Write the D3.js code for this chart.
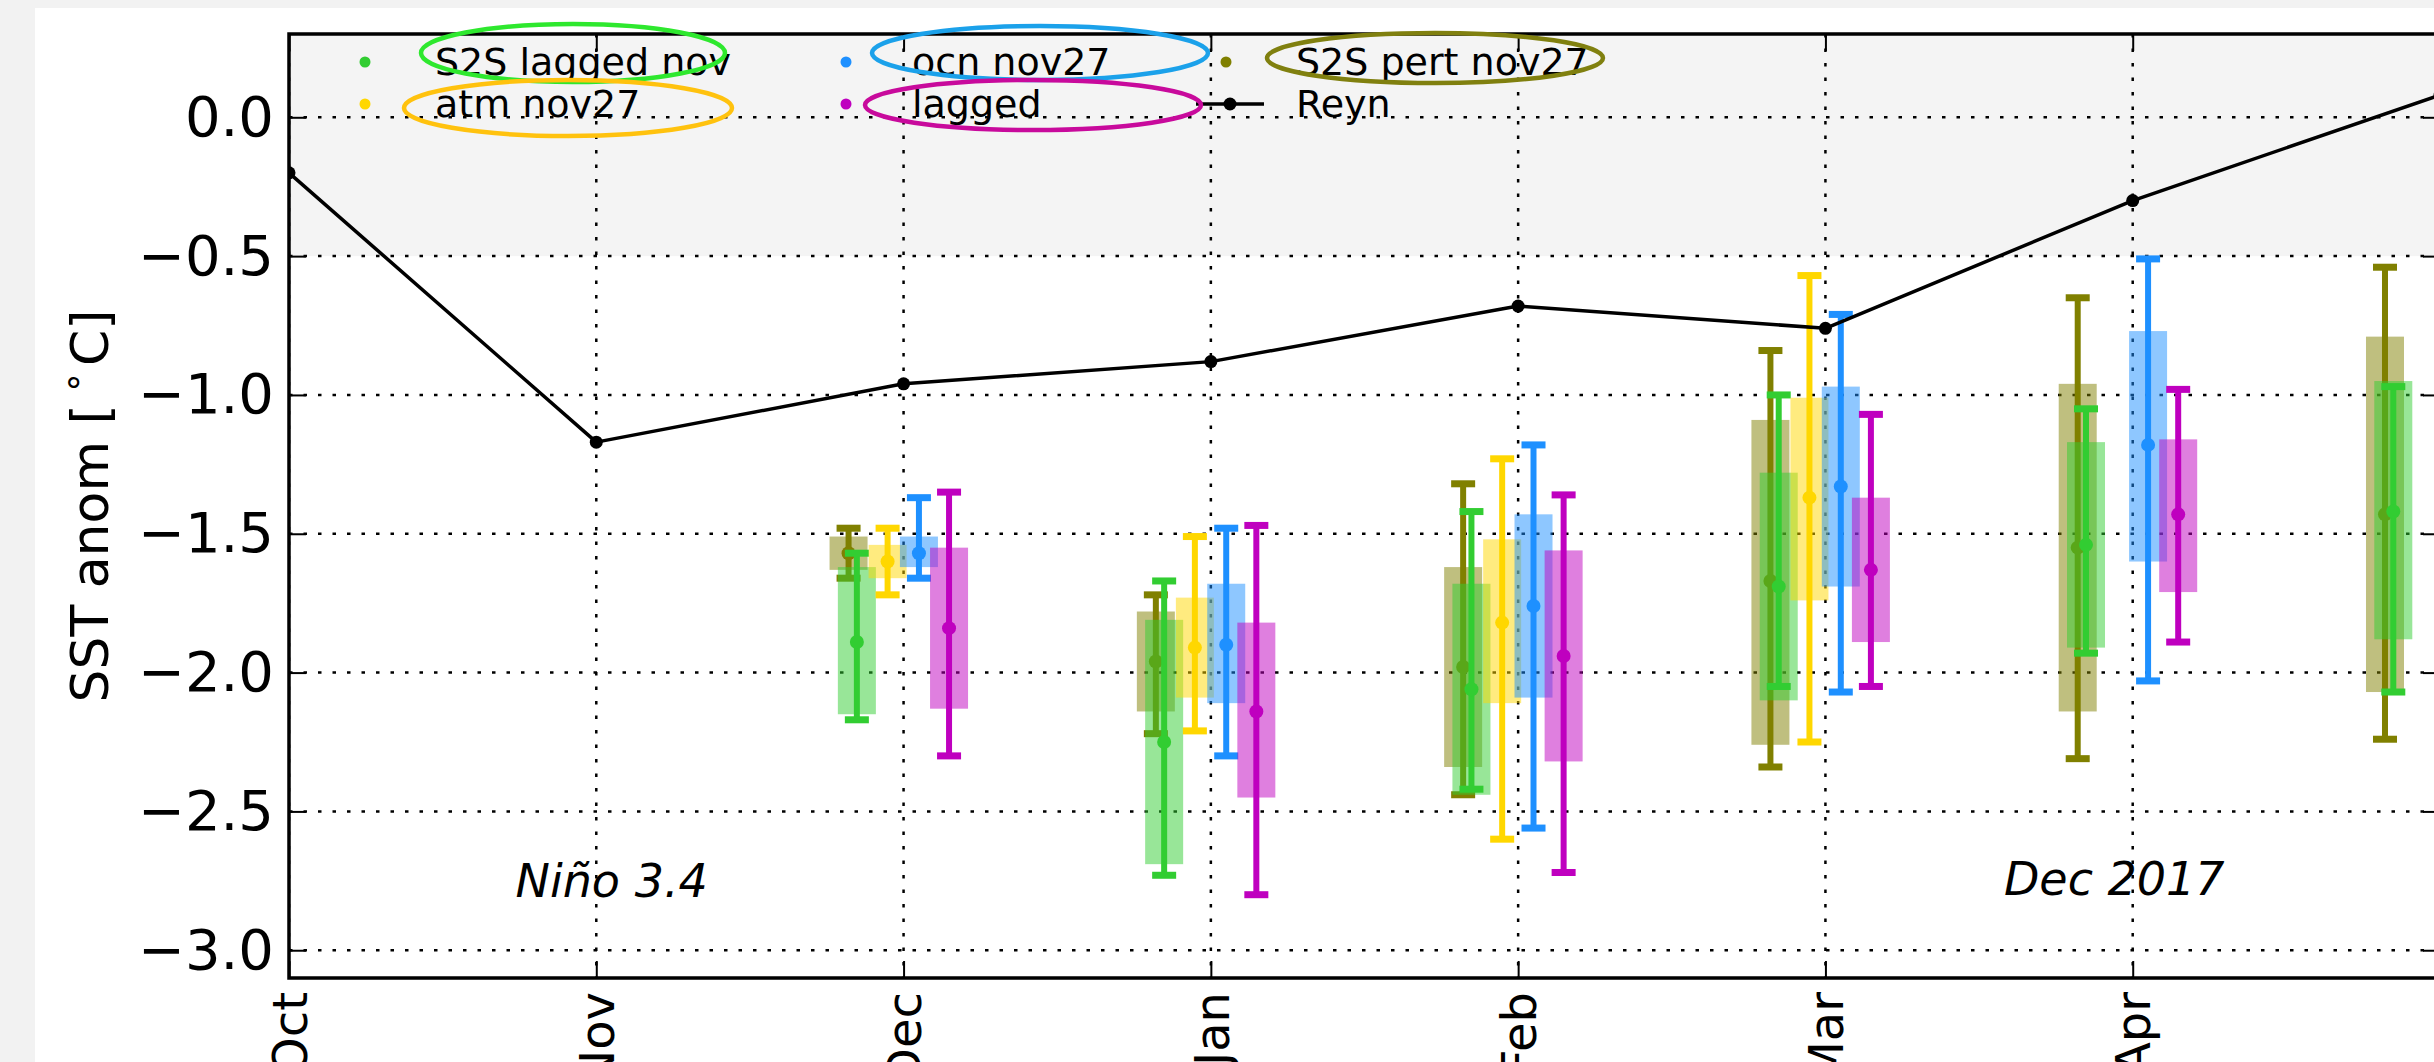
<!DOCTYPE html>
<html>
<head>
<meta charset="utf-8">
<script src="https://cdn.jsdelivr.net/npm/d3@7"></script>
<style>
  html, body { margin: 0; padding: 0; background: #f2f2f2; overflow: hidden; }
  svg { display: block; }
  text { font-family: "DejaVu Sans", sans-serif; fill: #000; }
</style>
</head>
<body>
<svg id="chart" width="2434" height="1062"></svg>
<script>
// ---- data -------------------------------------------------------------
const months = ["Oct", "Nov", "Dec", "Jan", "Feb", "Mar", "Apr", "May"];
const labelledMonths = ["Oct", "Nov", "Dec", "Jan", "Feb", "Mar", "Apr"];
const yTicks = [0.0, -0.5, -1.0, -1.5, -2.0, -2.5, -3.0];

// Observed Niño 3.4 anomaly (Reynolds), Oct..May
const reyn = [-0.20, -1.17, -0.96, -0.88, -0.68, -0.76, -0.30, 0.08];

// Forecast spread per lead month, starting at Dec:
// [min, box bottom, centre, box top, max]
const s2sPertNov27 = [
  [-1.66, -1.63, -1.57, -1.51, -1.48],
  [-2.22, -2.14, -1.96, -1.78, -1.72],
  [-2.44, -2.34, -1.98, -1.62, -1.32],
  [-2.34, -2.26, -1.67, -1.09, -0.84],
  [-2.31, -2.14, -1.55, -0.96, -0.65],
  [-2.24, -2.07, -1.43, -0.79, -0.54]
];
const s2sLaggedNov = [
  [-2.17, -2.15, -1.89, -1.62, -1.57],
  [-2.73, -2.69, -2.25, -1.81, -1.67],
  [-2.42, -2.44, -2.06, -1.68, -1.42],
  [-2.05, -2.10, -1.69, -1.28, -1.00],
  [-1.93, -1.91, -1.54, -1.17, -1.05],
  [-2.07, -1.88, -1.42, -0.95, -0.97]
];
const atmNov27 = [
  [-1.72, -1.66, -1.60, -1.54, -1.48],
  [-2.21, -2.09, -1.91, -1.73, -1.51],
  [-2.60, -2.11, -1.82, -1.52, -1.23],
  [-2.25, -1.74, -1.37, -1.01, -0.57]
];
const ocnNov27 = [
  [-1.66, -1.62, -1.57, -1.51, -1.37],
  [-2.30, -2.11, -1.90, -1.68, -1.48],
  [-2.56, -2.09, -1.76, -1.43, -1.18],
  [-2.07, -1.69, -1.33, -0.97, -0.71],
  [-2.03, -1.60, -1.18, -0.77, -0.51]
];
const lagged = [
  [-2.30, -2.13, -1.84, -1.55, -1.35],
  [-2.80, -2.45, -2.14, -1.82, -1.47],
  [-2.72, -2.32, -1.94, -1.56, -1.36],
  [-2.05, -1.89, -1.63, -1.37, -1.07],
  [-1.89, -1.71, -1.43, -1.16, -0.98]
];

// ---- layout -------------------------------------------------------------
const W = 2434, H = 1062;
const plot = { left: 289, right: 2440, top: 34, bottom: 978 };
const firstForecastMonth = 2; // Dec

const x = d3.scaleLinear().domain([0, months.length - 1]).range([plot.left, plot.right]);
const y = d3.scaleLinear().domain([-3.1, 0.3]).range([plot.bottom, plot.top]);

const series = [
  { name: "S2S pert nov27", color: "#808000", values: s2sPertNov27, dx: -0.179 },
  { name: "S2S lagged nov", color: "#32cd32", values: s2sLaggedNov, dx: -0.152 },
  { name: "atm nov27",      color: "#ffd700", values: atmNov27,     dx: -0.052 },
  { name: "ocn nov27",      color: "#1e90ff", values: ocnNov27,     dx: 0.050 },
  { name: "lagged",         color: "#bf00bf", values: lagged,       dx: 0.148 }
];

const svg = d3.select("#chart");

// page and figure background
svg.append("rect").attr("width", W).attr("height", H).attr("fill", "#f2f2f2");
svg.append("rect").attr("x", 35).attr("y", 8).attr("width", W - 35).attr("height", H - 8).attr("fill", "#fff");

svg.append("defs").append("clipPath").attr("id", "plotClip")
  .append("rect")
  .attr("x", plot.left).attr("y", plot.top)
  .attr("width", plot.right - plot.left).attr("height", plot.bottom - plot.top);

const g = svg.append("g").attr("clip-path", "url(#plotClip)");

// neutral band (-0.5 .. +0.5)
g.append("rect")
  .attr("x", plot.left).attr("width", plot.right - plot.left)
  .attr("y", y(0.5)).attr("height", y(-0.5) - y(0.5))
  .attr("fill", "#f4f4f4");

// dotted grid
const gridStyle = sel => sel.attr("stroke", "#000").attr("stroke-width", 2.5).attr("stroke-dasharray", "3.5 11");
g.append("g").selectAll("line").data(yTicks).join("line")
  .attr("x1", plot.left).attr("x2", plot.right)
  .attr("y1", d => y(d)).attr("y2", d => y(d))
  .call(gridStyle);
g.append("g").selectAll("line").data(months.map((m, i) => i)).join("line")
  .attr("x1", d => x(d)).attr("x2", d => x(d))
  .attr("y1", plot.top).attr("y2", plot.bottom)
  .call(gridStyle);

// forecast boxes and whiskers
const boxW = 38, capW = 24, capH = 7, barW = 6, dotR = 7;
series.forEach(s => {
  const rows = s.values.map((v, i) => ({ m: firstForecastMonth + i, lo: v[0], q1: v[1], mid: v[2], q3: v[3], hi: v[4] }));
  const sg = g.append("g");
  rows.forEach(r => {
    const cx = x(r.m + s.dx);
    sg.append("rect")
      .attr("x", cx - boxW / 2).attr("width", boxW)
      .attr("y", y(r.q3)).attr("height", y(r.q1) - y(r.q3))
      .attr("fill", s.color).attr("fill-opacity", 0.5);
    sg.append("line")
      .attr("x1", cx).attr("x2", cx)
      .attr("y1", y(r.hi)).attr("y2", y(r.lo))
      .attr("stroke", s.color).attr("stroke-width", barW);
    [r.hi, r.lo].forEach(v => {
      sg.append("rect")
        .attr("x", cx - capW / 2).attr("width", capW)
        .attr("y", y(v) - capH / 2).attr("height", capH)
        .attr("fill", s.color);
    });
    sg.append("circle").attr("cx", cx).attr("cy", y(r.mid)).attr("r", dotR).attr("fill", s.color);
  });
});

// observations
g.append("path")
  .datum(reyn)
  .attr("fill", "none").attr("stroke", "#000").attr("stroke-width", 3.5)
  .attr("stroke-linejoin", "round")
  .attr("d", d3.line().x((d, i) => x(i)).y(d => y(d)));
g.append("g").selectAll("circle").data(reyn).join("circle")
  .attr("cx", (d, i) => x(i)).attr("cy", d => y(d)).attr("r", 6.5).attr("fill", "#000");

// annotations
g.append("text").attr("x", x(1.05)).attr("y", y(-2.81))
  .attr("text-anchor", "middle").attr("font-style", "italic").attr("font-size", 46)
  .text("Niño 3.4");
g.append("text").attr("x", x(5.94)).attr("y", y(-2.80))
  .attr("text-anchor", "middle").attr("font-style", "italic").attr("font-size", 46)
  .text("Dec 2017");

// axes
const tickLen = 17;
const fmt = d3.format(".1f");
const yAxis = svg.append("g").attr("transform", `translate(${plot.left},0)`)
  .call(d3.axisLeft(y).tickValues(yTicks).tickFormat(fmt).tickSize(-tickLen).tickPadding(15));
yAxis.selectAll("text").attr("font-size", 56).attr("font-family", "DejaVu Sans");

const xAxis = svg.append("g").attr("transform", `translate(0,${plot.bottom})`)
  .call(d3.axisBottom(x).tickValues(labelledMonths.map((m, i) => i)).tickFormat(i => labelledMonths[i]).tickSize(-tickLen).tickPadding(14));
xAxis.selectAll("text")
  .attr("font-size", 48).attr("font-family", "DejaVu Sans")
  .attr("y", 0).attr("x", -14).attr("dy", "0.36em")
  .attr("transform", "rotate(-90)")
  .style("text-anchor", "end");

svg.append("g").attr("transform", `translate(0,${plot.top})`)
  .call(d3.axisTop(x).tickValues(months.map((m, i) => i)).tickFormat("").tickSize(-tickLen));
svg.append("g").attr("transform", `translate(${plot.right},0)`)
  .call(d3.axisRight(y).tickValues(yTicks).tickFormat("").tickSize(-tickLen));

svg.selectAll(".domain").remove();
svg.selectAll(".tick line").attr("stroke", "#000").attr("stroke-width", 2);

svg.append("rect")
  .attr("x", plot.left).attr("y", plot.top)
  .attr("width", plot.right - plot.left).attr("height", plot.bottom - plot.top)
  .attr("fill", "none").attr("stroke", "#000").attr("stroke-width", 3.5);

// y label
const yl = svg.append("text")
  .attr("transform", `translate(90,${(plot.top + plot.bottom) / 2}) rotate(-90)`)
  .attr("text-anchor", "middle").attr("dominant-baseline", "central")
  .attr("font-size", 52);
yl.append("tspan").text("SST anom [\u2009");
yl.append("tspan").attr("font-size", 36).attr("dy", -18).text("\u2218");
yl.append("tspan").attr("dy", 18).text("\u200aC]");

// legend
const legendCols = [
  { mx: 365, tx: 435 },
  { mx: 846, tx: 912 },
  { mx: 1226, tx: 1296 }
];
const legendRows = [62, 104];
const legendItems = [
  { s: series[1], col: 0, row: 0 },
  { s: series[2], col: 0, row: 1 },
  { s: series[3], col: 1, row: 0 },
  { s: series[4], col: 1, row: 1 },
  { s: series[0], col: 2, row: 0 }
];
const lg = svg.append("g");
legendItems.forEach(it => {
  const c = legendCols[it.col], ry = legendRows[it.row];
  lg.append("circle").attr("cx", c.mx).attr("cy", ry).attr("r", 5.5).attr("fill", it.s.color);
  lg.append("text").attr("x", c.tx).attr("y", ry).attr("dominant-baseline", "central")
    .attr("font-size", 38).text(it.s.name);
});
lg.append("line").attr("x1", 1196).attr("x2", 1264).attr("y1", legendRows[1]).attr("y2", legendRows[1])
  .attr("stroke", "#000").attr("stroke-width", 3.5);
lg.append("circle").attr("cx", 1230).attr("cy", legendRows[1]).attr("r", 6.5).attr("fill", "#000");
lg.append("text").attr("x", legendCols[2].tx).attr("y", legendRows[1]).attr("dominant-baseline", "central")
  .attr("font-size", 38).text("Reyn");

// highlight rings around the forecast labels
const rings = [
  { cx: 573,  cy: 53,  rx: 152, ry: 29, color: "#2ee82e" },
  { cx: 568,  cy: 108, rx: 164, ry: 28, color: "#ffc20e" },
  { cx: 1040, cy: 53,  rx: 168, ry: 27, color: "#1ba1ea" },
  { cx: 1033, cy: 105, rx: 168, ry: 25, color: "#c80a9c" },
  { cx: 1435, cy: 58,  rx: 168, ry: 25, color: "#80800f" }
];
svg.append("g").selectAll("ellipse").data(rings).join("ellipse")
  .attr("cx", d => d.cx).attr("cy", d => d.cy).attr("rx", d => d.rx).attr("ry", d => d.ry)
  .attr("fill", "none").attr("stroke", d => d.color).attr("stroke-width", 4.5);
</script>
</body>
</html>
